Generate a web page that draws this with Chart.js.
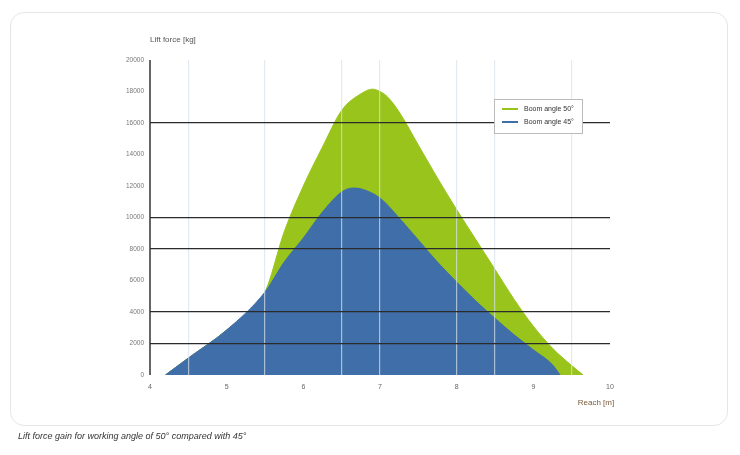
<!DOCTYPE html>
<html>
<head>
<meta charset="utf-8">
<script src="https://cdn.jsdelivr.net/npm/chart.js@4/dist/chart.umd.min.js"></script>
<style>
  html, body { margin: 0; padding: 0; background: #fff; }
  #wrap { position: relative; width: 740px; height: 455px; font-family: "Liberation Sans", Arial, sans-serif; }
  #frame { position: absolute; left: 10px; top: 12px; width: 718px; height: 414px; border: 1px solid #e6e6e6; border-radius: 14px; box-sizing: border-box; }
  canvas { position: absolute; left: 0; top: 0; }
  #caption { position: absolute; left: 18px; top: 431px; font-size: 9px; font-style: italic; color: #333; }
</style>
</head>
<body>
<div id="wrap">
  <div id="frame"></div>
  <canvas id="c" width="740" height="455"></canvas>
  <div id="caption">Lift force gain for working angle of 50° compared with 45°</div>
</div>
<script>
// ---- data ----
const seriesLabels = ["Boom angle 50°", "Boom angle 45°"];
const greenX = [4.2, 4.5, 5.0, 5.5, 5.75, 6.0, 6.25, 6.5, 6.75, 6.9, 7.0, 7.1, 7.25, 7.5, 7.75, 8.0, 8.25, 8.5, 8.75, 9.0, 9.25, 9.5, 9.65];
const greenY = [0, 1080, 2860, 5270, 9080, 12000, 14480, 16800, 17850, 18150, 18000, 17650, 16700, 14600, 12500, 10500, 8600, 6700, 4800, 3100, 1700, 600, 0];
const blueX = [4.2, 4.5, 5.0, 5.5, 5.75, 6.0, 6.25, 6.5, 6.65, 6.75, 7.0, 7.25, 7.5, 7.75, 8.0, 8.25, 8.5, 8.75, 9.0, 9.25, 9.35];
const blueY = [0, 1080, 2860, 5270, 7170, 8700, 10350, 11620, 11870, 11820, 11240, 9970, 8570, 7170, 5900, 4700, 3600, 2550, 1600, 650, 0];
const xTicks = [4, 5, 6, 7, 8, 9, 10];
const yTicks = [0, 2000, 4000, 6000, 8000, 10000, 12000, 14000, 16000, 18000, 20000];
const yDarkLines = [2000, 4000, 8000, 10000, 16000];
const xLightLines = [4.5, 5.5, 6.5, 7, 8, 8.5, 9.5];
const yTitle = "Lift force [kg]";
const xTitle = "Reach [m]";

const GREEN = "rgb(152,196,28)";
const BLUE = "rgb(64,110,168)";

const toPts = (xs, ys) => xs.map((x, i) => ({ x: x, y: ys[i] }));

const overlay = {
  id: "overlay",
  afterDraw(chart) {
    const ctx = chart.ctx;
    const ca = chart.chartArea;
    ctx.save();
    // y axis line
    ctx.strokeStyle = "#333";
    ctx.lineWidth = 1.5;
    ctx.beginPath();
    ctx.moveTo(ca.left, ca.top);
    ctx.lineTo(ca.left, ca.bottom);
    ctx.stroke();
    // axis titles
    ctx.fillStyle = "#555";
    ctx.font = "8px 'Liberation Sans', Arial, sans-serif";
    ctx.textAlign = "left";
    ctx.textBaseline = "middle";
    ctx.fillText(yTitle, ca.left, ca.top - 20);
    ctx.fillStyle = "#7a5a3a";
    ctx.textAlign = "center";
    ctx.fillText(xTitle, ca.right - 14, ca.bottom + 28);
    // legend
    const lx = 494, ly = 99, lw = 88, lh = 34;
    ctx.fillStyle = "#fff";
    ctx.fillRect(lx, ly, lw, lh);
    ctx.strokeStyle = "#bbb";
    ctx.lineWidth = 1;
    ctx.strokeRect(lx + 0.5, ly + 0.5, lw, lh);
    const cols = [GREEN, BLUE];
    ctx.font = "7px 'Liberation Sans', Arial, sans-serif";
    ctx.textAlign = "left";
    for (let i = 0; i < 2; i++) {
      const yy = ly + 10 + i * 13;
      ctx.strokeStyle = cols[i];
      ctx.lineWidth = 2;
      ctx.beginPath();
      ctx.moveTo(lx + 8, yy);
      ctx.lineTo(lx + 24, yy);
      ctx.stroke();
      ctx.fillStyle = "#333";
      ctx.fillText(seriesLabels[i], lx + 30, yy);
    }
    ctx.restore();
  }
};

new Chart(document.getElementById("c"), {
  type: "line",
  data: {
    datasets: [
      { label: seriesLabels[0], data: toPts(greenX, greenY), borderColor: GREEN, backgroundColor: GREEN,
        fill: "origin", pointRadius: 0, borderWidth: 1, cubicInterpolationMode: "monotone", order: 2 },
      { label: seriesLabels[1], data: toPts(blueX, blueY), borderColor: BLUE, backgroundColor: BLUE,
        fill: "origin", pointRadius: 0, borderWidth: 1, cubicInterpolationMode: "monotone", order: 1 }
    ]
  },
  options: {
    responsive: false,
    animation: false,
    devicePixelRatio: 1,
    layout: { padding: { left: 0, top: 60, right: 130, bottom: 0 } },
    plugins: { legend: { display: false }, tooltip: { enabled: false } },
    scales: {
      x: {
        type: "linear", min: 4, max: 10,
        afterFit: s => { s.height = 80; },
        afterBuildTicks: s => {
          const set = new Set(xTicks.concat(xLightLines));
          s.ticks = Array.from(set).sort((a, b) => a - b).map(v => ({ value: v }));
        },
        ticks: {
          autoSkip: false, maxRotation: 0, padding: 8,
          color: "#666", font: { size: 7 },
          callback: v => xTicks.includes(v) ? String(v) : ""
        },
        grid: {
          z: 1, drawTicks: false,
          color: c => (c.tick && xLightLines.includes(c.tick.value)) ? "rgba(215,225,235,0.7)" : "rgba(0,0,0,0)",
          lineWidth: 1.2
        },
        border: { display: false }
      },
      y: {
        min: 0, max: 20000,
        afterFit: s => { s.width = 150; },
        afterBuildTicks: s => { s.ticks = yTicks.map(v => ({ value: v })); },
        ticks: { padding: 6, color: "#777", font: { size: 6.5 }, callback: v => String(v) },
        grid: {
          z: 1, drawTicks: false,
          color: c => (c.tick && yDarkLines.includes(c.tick.value)) ? "#2b2b2b" : "rgba(0,0,0,0)",
          lineWidth: 1.3
        },
        border: { display: false }
      }
    }
  },
  plugins: [overlay]
});
</script>
</body>
</html>
